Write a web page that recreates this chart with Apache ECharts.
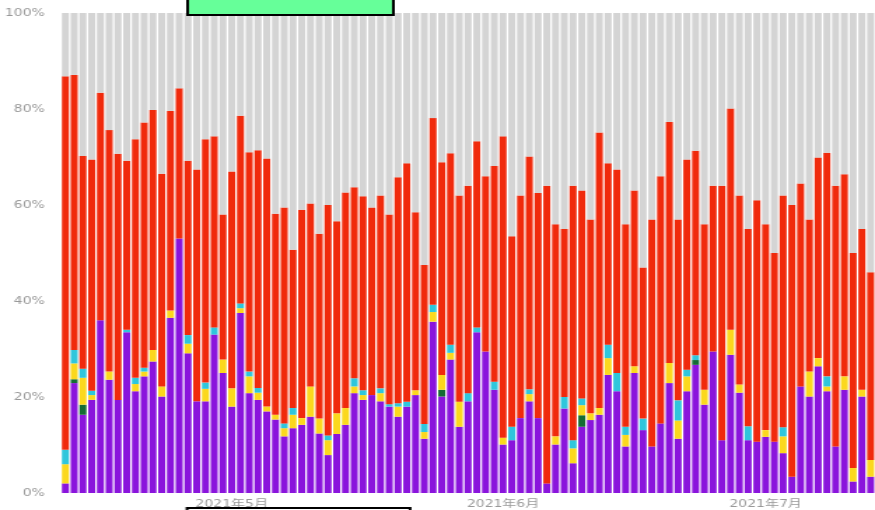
<!DOCTYPE html>
<html>
<head>
<meta charset="utf-8">
<script src="https://cdn.jsdelivr.net/npm/echarts@6/dist/echarts.min.js"></script>
<style>
html,body{margin:0;padding:0;background:#fff;overflow:hidden;}
#wrap{width:875px;height:510px;overflow:hidden;}
#chart{width:625px;height:510px;transform:scaleX(1.4);transform-origin:0 0;}
</style>
</head>
<body>
<div id="wrap"><div id="chart"></div></div>
<script>
// Dates: 2021-04-12 .. 2021-07-13 (93 days)
var startDate = '2021-04-12';
var dayCount = 93;
var categories = [];
(function(){
  var d = new Date(startDate + 'T00:00:00Z');
  for (var i = 0; i < dayCount; i++) {
    var m = d.getUTCMonth() + 1, dd = d.getUTCDate();
    categories.push(d.getUTCFullYear() + '-' + (m < 10 ? '0' : '') + m + '-' + (dd < 10 ? '0' : '') + dd);
    d.setUTCDate(dd + 1);
  }
})();

var yTicks = ['0%', '20%', '40%', '60%', '80%', '100%'];

// share (%) per day, bottom to top
var purple = [2,22.9,16.3,19.4,36,23.6,19.4,33.5,21.2,24.3,
  27.4,20.1,36.5,53,29.1,19.1,19.1,33,25,18,
  37.5,20.8,19.4,17,15.3,11.8,13.5,14.2,15.9,12.4,
  7.9,12.3,14.2,20.8,19.4,20.4,19.1,18,15.9,18,
  20.4,11.3,35.7,20.1,27.8,13.8,19.1,33.5,29.5,21.5,
  10.1,11,15.6,19.1,15.6,2,10.1,17.6,6.2,13.8,
  15.2,16.3,24.6,21.2,9.7,25,13.1,9.7,14.5,22.9,
  11.3,21.2,26.7,18.4,29.5,11,28.8,20.9,11,10.7,
  11.7,10.7,8.3,3.4,22.2,20.1,26.4,21.2,9.7,21.5,
  2.4,20.1,3.4];
var green = [0,0.8,2.1,0,0,0,0,0,0,0,
  0,0,0,0,0,0,0,0,0,0,
  0,0,0,0,0,0,0,0,0,0,
  0,0,0,0,0,0,0,0,0,0,
  0,0,0,1.4,0,0,0,0,0,0,
  0,0,0,0,0,0,0,0,0,2.4,
  0,0,0,0,0,0,0,0,0,0,
  0,0,1,0,0,0,0,0,0,0,
  0,0,0,0,0,0,0,0,0,0,
  0,0,0];
var yellow = [4,3.3,5.6,1,0,1.7,0,0,1.5,1,
  2.4,2.1,1.5,0,2,0,2.6,0,2.8,3.8,
  1,3.5,1.5,1,1,1.7,2.8,1.4,6.3,3.1,
  3.1,4.3,3.5,1.4,1,0,1.7,0,2.1,0,
  1,1.4,2,3.1,1.4,5.2,0,0,0,0,
  1.4,0,0,1.5,0,0,1.7,0,3.1,2.1,
  1.4,1.4,3.5,0,2.4,1.4,0,0,0,4.2,
  3.8,3.1,0,3.1,0,0,5.2,1.7,0,0,
  1.4,0,3.5,0,0,5.2,1.7,1,0,2.8,
  2.8,1.4,3.5];
var cyan = [3,2.8,1.9,0.9,0,0,0,0.5,1.3,0.8,
  0,0,0,0,1.8,0,1.3,1.5,0,0,
  1,1,1,0,0,1,1.4,0,0,0,
  1,0,0,1.7,1,0,1,0.5,0.7,1,
  0,1.7,1.5,0,1.7,0,1.7,1,0,1.7,
  0,2.8,0,1,0,0,0,2.4,1.7,1.4,
  0,0,2.8,3.8,1.7,0,2.4,0,0,0,
  4.2,1.4,1,0,0,0,0,0,2.9,0,
  0,0,1.9,0,0,0,0,2.1,0,0,
  0,0,0];
// cumulative level reached by the red band (top of red)
var redTop = [86.8,87.1,70.2,69.5,83.4,75.6,70.7,69.2,73.7,77.2,
  79.8,66.5,79.6,84.3,69.2,67.4,73.7,74.3,58,67,
  78.6,71,71.4,69.7,58.2,59.5,50.7,59,60.3,54,
  60,56.6,62.6,63.7,61.8,59.5,62,58,65.8,68.7,
  58.5,47.5,78.1,68.9,70.8,62,64,73.3,66,68.1,
  74.3,53.5,62,70.1,62.5,64,56,55,64,63,
  57,75.1,68.7,67.4,56,63,47,57,66,77.3,
  57,69.5,71.3,56,64,64,80.1,62,55,61,
  56,50,62,60,64.5,57,69.9,70.9,64,66.4,
  50,55,46];

var red = redTop.map(function(t, i){
  return +(t - purple[i] - green[i] - yellow[i] - cyan[i]).toFixed(2);
});
var gray = redTop.map(function(t){ return +(100 - t).toFixed(2); });

var colors = ['#8a14dc', '#146b34', '#fbd81e', '#2fc6dc', '#f02a0c', '#d4d4d4'];
var seriesData = [purple, green, yellow, cyan, red, gray];
var names = ['p', 'g', 'y', 'c', 'r', 'o'];

var chart = echarts.init(document.getElementById('chart'), null, {renderer: 'canvas'});
var font = 'DejaVu Sans, Noto Sans CJK SC, sans-serif';
chart.setOption({
  animation: false,
  grid: {left: 43.6, right: 0, top: 13, bottom: 17, containLabel: false},
  xAxis: {
    type: 'category',
    data: categories,
    axisLine: {show: false},
    axisTick: {show: false},
    axisLabel: {
      color: '#999', fontSize: 10, fontFamily: font, margin: 6,
      interval: function(idx, val){ return val.slice(8) === '01'; },
      formatter: function(val){ return val.slice(0,4) + '年' + parseInt(val.slice(5,7), 10) + '月'; }
    }
  },
  yAxis: {
    type: 'value', min: 0, max: 100, interval: 20,
    axisLine: {show: false}, axisTick: {show: false},
    splitLine: {show: false},
    axisLabel: {
      color: '#999', fontSize: 10, fontFamily: font, margin: 11.5,
      formatter: function(v){ return yTicks[v / 20]; }
    }
  },
  series: seriesData.map(function(d, k){
    return {
      name: names[k], type: 'bar', stack: 'all', data: d,
      barCategoryGap: '20%',
      itemStyle: {color: colors[k]}
    };
  }),
  graphic: [
    {type: 'rect', z: 100, shape: {x: 134, y: -4, width: 147, height: 19},
     style: {fill: '#66ff99', stroke: '#000', lineWidth: 2}},
    {type: 'rect', z: 100, shape: {x: 133.6, y: 508, width: 159.3, height: 20},
     style: {fill: '#fff', stroke: '#000', lineWidth: 2}}
  ]
});
</script>
</body>
</html>
